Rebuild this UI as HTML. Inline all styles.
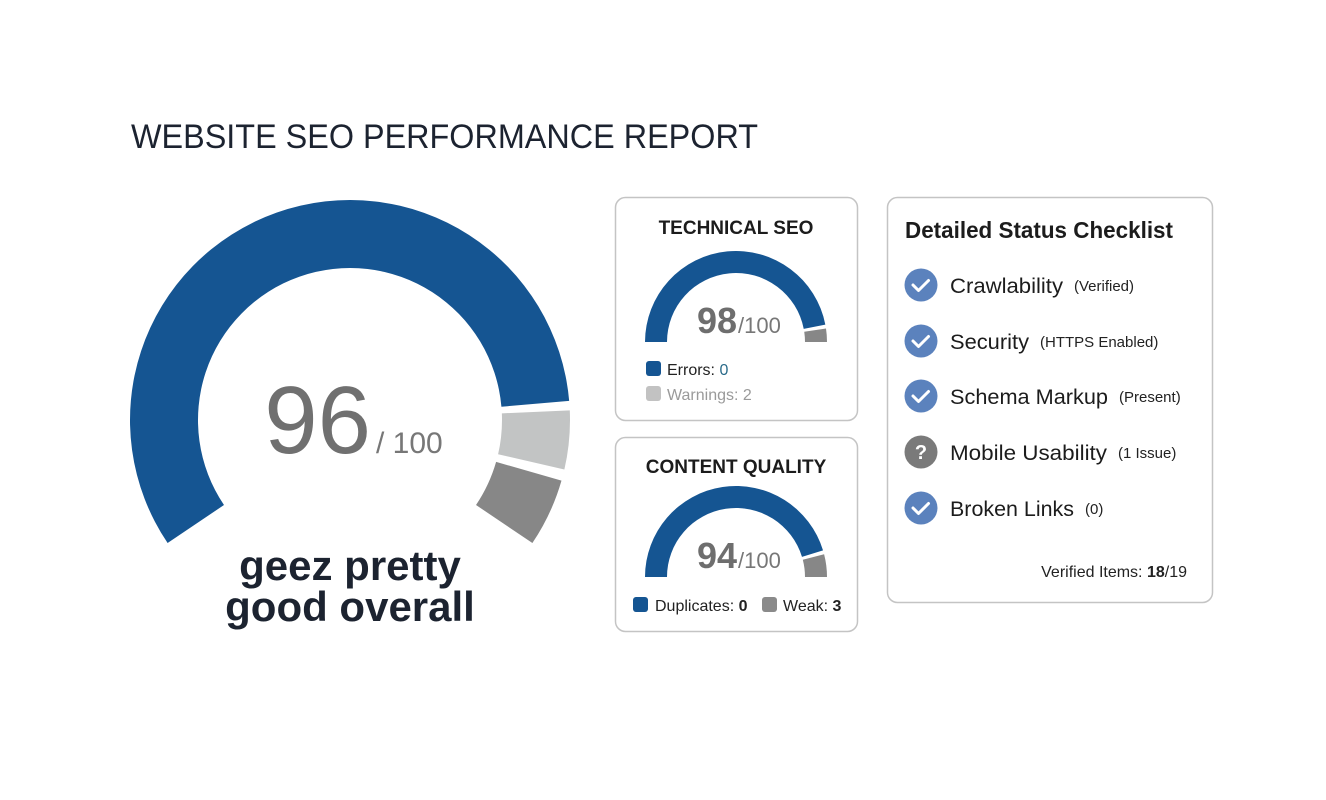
<!DOCTYPE html>
<html><head><meta charset="utf-8"><style>
body{margin:0;background:#fff;}
svg{display:block;font-family:"Liberation Sans",Arial,sans-serif;}
</style></head><body>
<svg id="s" width="1326" height="800" viewBox="0 0 1326 800" xmlns="http://www.w3.org/2000/svg">
<rect width="1326" height="800" fill="#fff"/>
<text x="131" y="148" font-size="34" fill="#1c2330" textLength="627" lengthAdjust="spacingAndGlyphs">WEBSITE SEO PERFORMANCE REPORT</text>
<g id="arcs"></g>
<text x="371" y="453" font-size="96" fill="#707070" text-anchor="end">96</text>
<text x="376" y="453" font-size="30" fill="#777">/ 100</text>
<text x="350" y="580" font-size="42" font-weight="bold" fill="#1c2330" text-anchor="middle">geez pretty</text>
<text x="350" y="621" font-size="42" font-weight="bold" fill="#1c2330" text-anchor="middle">good overall</text>

<rect x="615.5" y="197.5" width="242" height="223" rx="10" fill="#fff" stroke="#c4c4c4" stroke-width="1.5"/>
<text x="736" y="234" font-size="19" font-weight="bold" fill="#1c1c1c" text-anchor="middle">TECHNICAL SEO</text>
<text x="737" y="333" font-size="36" font-weight="bold" fill="#6e6e6e" text-anchor="end">98</text>
<text x="738" y="333" font-size="22" fill="#777">/100</text>
<rect x="646" y="361" width="15" height="15" rx="3" fill="#155592"/>
<text x="667" y="375" font-size="16" fill="#222">Errors: <tspan fill="#2a6b8a">0</tspan></text>
<rect x="646" y="386" width="15" height="15" rx="3" fill="#c2c2c2"/>
<text x="667" y="400" font-size="16" fill="#9a9a9a">Warnings: 2</text>

<rect x="615.5" y="437.5" width="242" height="194" rx="10" fill="#fff" stroke="#c4c4c4" stroke-width="1.5"/>
<text x="736" y="473" font-size="19" font-weight="bold" fill="#1c1c1c" text-anchor="middle">CONTENT QUALITY</text>
<text x="737" y="568" font-size="36" font-weight="bold" fill="#6e6e6e" text-anchor="end">94</text>
<text x="738" y="568" font-size="22" fill="#777">/100</text>
<rect x="633" y="597" width="15" height="15" rx="3" fill="#155592"/>
<text x="655" y="611" font-size="16" fill="#222">Duplicates: <tspan font-weight="bold">0</tspan></text>
<rect x="762" y="597" width="15" height="15" rx="3" fill="#8a8a8a"/>
<text x="783" y="611" font-size="16" fill="#222">Weak: <tspan font-weight="bold">3</tspan></text>
<g id="arcs2"></g>

<rect x="887.5" y="197.5" width="325" height="405" rx="10" fill="#fff" stroke="#c4c4c4" stroke-width="1.5"/>
<text x="905" y="238" font-size="23" fill="#1c1c1c" font-weight="bold" textLength="268" lengthAdjust="spacingAndGlyphs">Detailed Status Checklist</text>
<g id="items"></g>
<text x="1187" y="577" font-size="16" fill="#222" text-anchor="end">Verified Items: <tspan font-weight="bold">18</tspan>/19</text>
</svg>
<script>
function arc(cx,cy,ro,ri,a0,a1,fill){
 const r=Math.PI/180,p=(R,a)=>[cx+R*Math.cos(a*r),cy+R*Math.sin(a*r)];
 const l=(a1-a0)>180?1:0;
 const [x0,y0]=p(ro,a0),[x1,y1]=p(ro,a1),[x2,y2]=p(ri,a1),[x3,y3]=p(ri,a0);
 return `<path d="M${x0} ${y0}A${ro} ${ro} 0 ${l} 1 ${x1} ${y1}L${x2} ${y2}A${ri} ${ri} 0 ${l} 0 ${x3} ${y3}Z" fill="${fill}"/>`;
}
let h='';
h+=arc(350,420,220,152,146,355,'#155592');
h+=arc(350,420,220,152,357.5,373,'#c2c4c4');
h+=arc(350,420,220,152,376,394,'#878787');
document.getElementById('arcs').innerHTML=h;
let h2='';
h2+=arc(736,342,91,69,180,349,'#155592');
h2+=arc(736,342,91,69,351.5,360,'#878787');
h2+=arc(736,577,91,69,180,343,'#155592');
h2+=arc(736,577,91,69,345.5,360,'#878787');
document.getElementById('arcs2').innerHTML=h2;
const it=[['Crawlability','(Verified)',285,1],['Security','(HTTPS Enabled)',341,1],['Schema Markup','(Present)',396,1],['Mobile Usability','(1 Issue)',452,0],['Broken Links','(0)',508,1]];
let g='';const widths={'Crawlability':113,'Security':79,'Schema Markup':158,'Mobile Usability':157,'Broken Links':124};
for(const [a,b,y,ok] of it){
 g+=`<circle cx="921" cy="${y}" r="16.5" fill="${ok?'#5b82bd':'#7a7a7a'}"/>`;
 if(ok) g+=`<path d="M913 ${y} l5.5 5.5 l10 -10" stroke="#fff" stroke-width="3" fill="none" stroke-linecap="round" stroke-linejoin="round"/>`;
 else g+=`<text x="921" y="${y+7}" font-size="20" font-weight="bold" fill="#fff" text-anchor="middle">?</text>`;
 g+=`<text x="950" y="${y+8}" font-size="21" fill="#1c1c1c" textLength="${widths[a]}" lengthAdjust="spacingAndGlyphs">${a}</text>`;
 g+=`<text x="${950+widths[a]+11}" y="${y+6}" font-size="15" fill="#222">${b}</text>`;
}
document.getElementById('items').innerHTML=g;
</script>
</body></html>
